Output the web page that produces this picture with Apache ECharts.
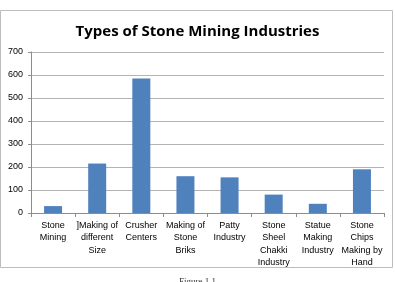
<!DOCTYPE html>
<html>
<head>
<meta charset="utf-8">
<style>
html,body{margin:0;padding:0;background:#fff;}
#chart{width:395px;height:282px;}
</style>
</head>
<body>
<div id="chart"></div>
<script src="https://cdn.jsdelivr.net/npm/echarts@6/dist/echarts.min.js"></script>
<script>
var categories = ['Stone\nMining', ']Making of\ndifferent\nSize', 'Crusher\nCenters', 'Making of\nStone\nBriks',
    'Patty\nIndustry', 'Stone\nSheel\nChakki\nIndustry', 'Statue\nMaking\nIndustry', 'Stone\nChips\nMaking by\nHand'];
var counts = [30, 215, 585, 160, 155, 80, 40, 190];
var yTicks = [0, 700, 100];

var myChart = echarts.init(document.getElementById('chart'));
var font = '"Liberation Sans", Arial, sans-serif';
var option = {
    animation: false,
    title: {
        text: 'Types of Stone Mining Industries',
        left: 'center',
        top: 19,
        textStyle: {fontFamily: '"Open Sans", sans-serif', fontSize: 15, fontWeight: 'bold', color: '#000'}
    },
    graphic: [
        {type: 'rect', shape: {x: 0.5, y: 10.5, width: 392, height: 257},
            style: {fill: 'none', stroke: '#bdbdbd', lineWidth: 1}},
        {type: 'text', left: 'center', top: 277,
            style: {text: 'Figure 1.1', font: '9px "Liberation Serif", serif', fill: '#333'}}
    ],
    grid: {left: 31, right: 11, top: 52, bottom: 69},
    xAxis: {
        type: 'category',
        data: categories,
        axisLine: {lineStyle: {color: '#8c8c8c'}},
        axisTick: {show: true, length: 4, lineStyle: {color: '#8c8c8c'}},
        axisLabel: {interval: 0, fontSize: 9, lineHeight: 12.5, color: '#000', fontFamily: font, margin: 6}
    },
    yAxis: {
        type: 'value',
        min: yTicks[0],
        max: yTicks[1],
        interval: yTicks[2],
        axisLine: {show: true, lineStyle: {color: '#8c8c8c'}},
        axisTick: {show: true, length: 3, lineStyle: {color: '#8c8c8c'}},
        axisLabel: {fontSize: 9, color: '#000', fontFamily: font, margin: 8},
        splitLine: {lineStyle: {color: '#b4b4b4'}}
    },
    series: [{
        type: 'bar',
        data: counts,
        barWidth: 18,
        itemStyle: {color: '#4f81bd'}
    }]
};
myChart.setOption(option);
</script>
</body>
</html>
